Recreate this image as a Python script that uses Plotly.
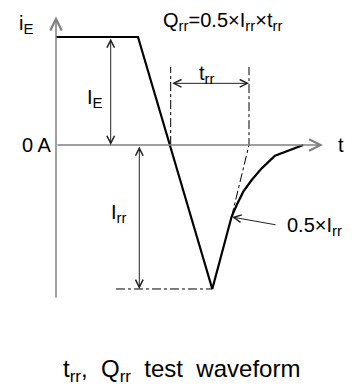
import plotly.graph_objs as go

# time axis in arbitrary units, current in units of I_E
t_wave = [0, 8.2, 15.63, 17.55, 18.07, 18.73, 19.57, 20.57, 21.9, 24.73]
i_wave = [1.0, 1.0, -1.333, -0.667, -0.556, -0.432, -0.324, -0.216, -0.099, 0.0]

I_E = 1.0
I_rr = -1.333
t_zero = 11.47      # zero crossing (start of trr)
t_end = 19.3        # extrapolated end of trr
t_peak = 15.63
t_half = 17.55
i_half = -0.667
mark_top = 0.722    # top of the trr marker lines

font = dict(family="Liberation Sans, Arial, sans-serif", size=20, color="black")
arrow_col = "#222222"
axis_col = "#808080"

fig = go.Figure()

# waveform
fig.add_trace(go.Scatter(x=t_wave, y=i_wave, mode="lines",
                         line=dict(color="black", width=2.2), hoverinfo="skip"))

# dash-dot construction lines
fig.add_trace(go.Scatter(x=[t_zero, t_zero], y=[0, mark_top], mode="lines",
                         line=dict(color="black", width=1, dash="dashdot")))
fig.add_trace(go.Scatter(x=[t_half, t_end, t_end], y=[i_half, 0, mark_top], mode="lines",
                         line=dict(color="black", width=1, dash="dashdot")))
fig.add_trace(go.Scatter(x=[6.0, t_peak], y=[I_rr, I_rr], mode="lines",
                         line=dict(color="black", width=1, dash="dashdot")))


def arrow(x0, y0, x1, y1, both=False, color=arrow_col, width=1):
    fig.add_annotation(x=x1, y=y1, ax=x0, ay=y0, xref="x", yref="y", axref="x", ayref="y",
                       text="", showarrow=True, arrowhead=5, arrowsize=1.5, arrowwidth=width,
                       arrowcolor=color, arrowside="end+start" if both else "end",
                       startarrowhead=5, startarrowsize=1.5, standoff=0, startstandoff=0)


# axes
arrow(0, -1.426, 0, 1.19, color=axis_col, width=1.5)
arrow(0, 0, 26.7, 0, color=axis_col, width=1.5)

# dimension arrows
arrow(5.47, I_E, 5.47, 0, both=True)
arrow(8.33, 0, 8.33, I_rr, both=True)
arrow(t_zero, 0.571, t_end, 0.571, both=True)
arrow(22.1, -0.741, 17.6, -0.667)


def sub(s, size=15):
    return '<sub><span style="font-size:%dpx">%s</span></sub>' % (size, s)


def label(x, y, text, xanchor="center", size=20):
    fig.add_annotation(x=x, y=y, xref="x", yref="y", text=text, showarrow=False,
                       xanchor=xanchor, yanchor="middle", font=dict(font, size=size))


label(-3.0, 1.12, "i" + sub("E"))
label(-0.25, 0, "0 A", xanchor="right")
label(28.5, 0, "t")
label(3.9, 0.435, "I" + sub("E"))
label(6.3, -0.63, "I" + sub("rr"))
label(16.65, 1.139, "Q" + sub("rr") + "=0.5×I" + sub("rr") + "×t" + sub("rr"))
label(15.1, 0.657, "t" + sub("rr"))
label(22.9, -0.75, "0.5×I" + sub("rr"), xanchor="left")
label(12.5, -2.09, "t" + sub("rr", 17) + ",  Q" + sub("rr", 17) + "  test  waveform", size=24)

fig.update_layout(
    width=354, height=387,
    margin=dict(l=0, r=0, t=0, b=0),
    showlegend=False,
    plot_bgcolor="white", paper_bgcolor="white",
    xaxis=dict(range=[-5.6, 29.8], visible=False, fixedrange=True),
    yaxis=dict(range=[-2.2407, 1.3426], visible=False, fixedrange=True),
)

fig.write_html("out.html", config={"displayModeBar": False},
               post_script="document.body.style.margin='0';")
